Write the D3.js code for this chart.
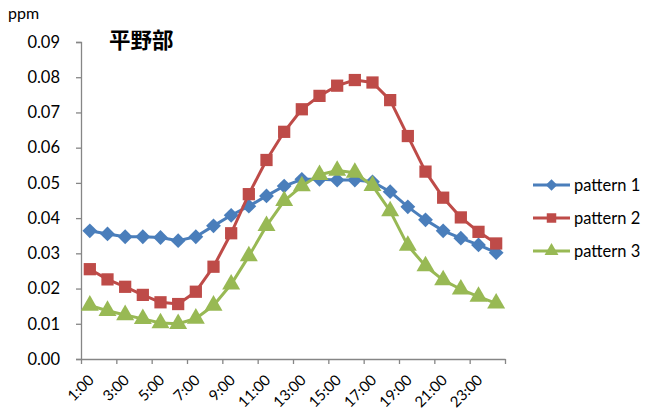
<!DOCTYPE html>
<html>
<head>
<meta charset="utf-8">
<script src="https://cdn.jsdelivr.net/npm/d3@7"></script>
<style>
  html, body { margin: 0; padding: 0; background: #fff; }
  svg { display: block; font-family: Lato, "Noto Sans", sans-serif; }
</style>
</head>
<body>
<svg id="chart" width="646" height="415"></svg>
<script>
// Hourly categories 1:00 .. 24:00
const hours = d3.range(1, 25).map(h => h + ":00");
const tickHours = hours.filter((h, i) => i % 2 === 0);
const yTicks = [0, 0.01, 0.02, 0.03, 0.04, 0.05, 0.06, 0.07, 0.08, 0.09];

const seriesNames = ["pattern 1", "pattern 2", "pattern 3"];

const pattern1 = [0.0364, 0.0355, 0.0347, 0.0347, 0.0345, 0.0336, 0.0347, 0.0378,
                  0.0408, 0.0434, 0.0463, 0.0491, 0.0510, 0.0510, 0.0508, 0.0508,
                  0.0503, 0.0475, 0.0432, 0.0395, 0.0364, 0.0343, 0.0324, 0.0302];
const pattern2 = [0.0255, 0.0226, 0.0205, 0.0182, 0.0161, 0.0156, 0.0191, 0.0262,
                  0.0357, 0.0468, 0.0565, 0.0645, 0.0709, 0.0747, 0.0776, 0.0792,
                  0.0785, 0.0735, 0.0633, 0.0532, 0.0458, 0.0402, 0.0361, 0.0328];
const pattern3 = [0.0152, 0.0137, 0.0125, 0.0114, 0.0102, 0.0100, 0.0115, 0.0152,
                  0.0212, 0.0292, 0.0378, 0.0449, 0.0491, 0.0523, 0.0535, 0.0529,
                  0.0492, 0.0420, 0.0322, 0.0264, 0.0224, 0.0198, 0.0177, 0.0158];

const colors = ["#4A7EBB", "#BE4B48", "#98B954"];
const shapes = [d3.symbolDiamond2, d3.symbolSquare, d3.symbolTriangle];
const symSizes = [140, 150, 140];

const svg = d3.select("#chart");
const plot = { left: 81, right: 505, top: 42, bottom: 359 };

const x = d3.scaleBand().domain(hours).range([plot.left, plot.right]).padding(0);
const xEdge = d3.scaleLinear().domain([0, hours.length]).range([plot.left, plot.right]);
const y = d3.scaleLinear().domain([0, 0.09]).range([plot.bottom, plot.top]);

const axisColor = "#868686";
const textColor = "#000";

// Y axis
const yAxis = svg.append("g")
  .attr("transform", `translate(${plot.left},0)`)
  .call(d3.axisLeft(y).tickValues(yTicks).tickFormat(d3.format(".2f")).tickSize(5).tickPadding(16));
yAxis.selectAll("path, line").attr("stroke", axisColor).attr("stroke-width", 1.3);
yAxis.selectAll("text").attr("fill", textColor).style("font-size", "16.5px").style("font-family", "Lato, sans-serif");

// X axis: tick marks between every second category
const xMarks = svg.append("g")
  .attr("transform", `translate(0,${plot.bottom})`)
  .call(d3.axisBottom(xEdge).tickValues(d3.range(0, 25, 2)).tickFormat("").tickSize(5).tickSizeOuter(0));
xMarks.selectAll("path, line").attr("stroke", axisColor).attr("stroke-width", 1.3);

// X axis labels, rotated
const xLabels = svg.append("g")
  .attr("transform", `translate(0,${plot.bottom})`)
  .call(d3.axisBottom(x).tickValues(tickHours).tickSize(0).tickPadding(0));
xLabels.select(".domain").remove();
xLabels.selectAll("text")
  .attr("fill", textColor)
  .style("font-size", "15px")
  .style("font-family", "Lato, sans-serif")
  .attr("text-anchor", "end")
  .attr("dy", null)
  .attr("y", 0)
  .attr("transform", "translate(5,22) rotate(-45)");

// Series lines and markers
const allSeries = [pattern1, pattern2, pattern3];
const line = d3.line().x((d, i) => x(hours[i]) + x.bandwidth() / 2).y(d => y(d));

allSeries.forEach((vals, s) => {
  const g = svg.append("g");
  g.append("path")
    .datum(vals)
    .attr("fill", "none")
    .attr("stroke", colors[s])
    .attr("stroke-width", 3)
    .attr("stroke-linejoin", "round")
    .attr("d", line);
  g.selectAll("path.mk")
    .data(vals)
    .join("path")
    .attr("class", "mk")
    .attr("d", d3.symbol().type(shapes[s]).size(symSizes[s]))
    .attr("transform", (d, i) => `translate(${x(hours[i]) + x.bandwidth() / 2},${y(d)})`)
    .attr("fill", colors[s]);
});

// Legend
const legend = svg.append("g");
seriesNames.forEach((name, s) => {
  const ly = 185 + s * 33;
  legend.append("line")
    .attr("x1", 533).attr("x2", 570).attr("y1", ly).attr("y2", ly)
    .attr("stroke", colors[s]).attr("stroke-width", 3);
  legend.append("path")
    .attr("d", d3.symbol().type(shapes[s]).size(symSizes[s] * 0.6))
    .attr("transform", `translate(551.5,${ly})`)
    .attr("fill", colors[s]);
  legend.append("text")
    .attr("x", 574).attr("y", ly)
    .attr("dy", "0.35em")
    .attr("fill", textColor)
    .style("font-size", "16.5px")
    .text(name);
});

// Unit and title
svg.append("text")
  .attr("x", 8).attr("y", 19)
  .attr("fill", textColor)
  .style("font-size", "16px")
  .text("ppm");

svg.append("text")
  .attr("x", 109).attr("y", 48)
  .attr("fill", textColor)
  .style("font-family", "'Noto Sans CJK JP', sans-serif")
  .style("font-size", "21.5px")
  .style("font-weight", "bold")
  .text("平野部");
</script>
</body>
</html>
